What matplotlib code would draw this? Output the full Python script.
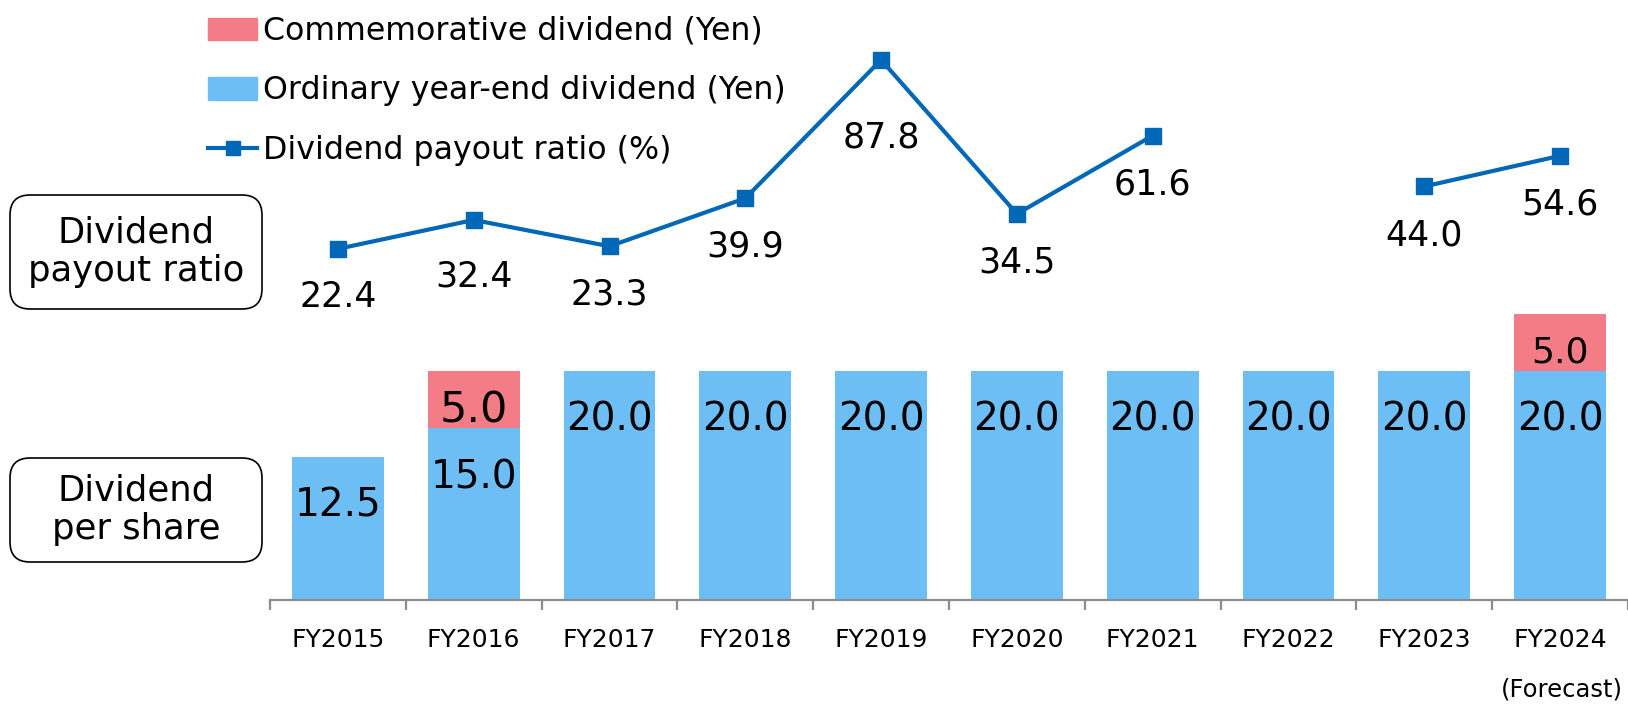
import numpy as np
import matplotlib.pyplot as plt
from matplotlib.patches import Patch, FancyBboxPatch
from matplotlib.lines import Line2D

# data
years = ['FY2015', 'FY2016', 'FY2017', 'FY2018', 'FY2019',
         'FY2020', 'FY2021', 'FY2022', 'FY2023', 'FY2024']
ordinary = [12.5, 15.0, 20.0, 20.0, 20.0, 20.0, 20.0, 20.0, 20.0, 20.0]
commemorative = [0, 5.0, 0, 0, 0, 0, 0, 0, 0, 5.0]
payout = [22.4, 32.4, 23.3, 39.9, 87.8, 34.5, 61.6, np.nan, 44.0, 54.6]

blue = '#6DBEF5'
red = '#F47C86'
line_c = '#0068B7'
grey = '#8C8C8C'

plt.rcParams['font.family'] = ['DejaVu Sans']

W, H = 1628, 705
fig = plt.figure(figsize=(W/100, H/100), dpi=100)
ax = fig.add_axes([270/W, 105/H, 1358/W, 600/H])
x = np.arange(len(years))

ax.bar(x, ordinary, width=0.675, color=blue)
ax.bar(x, commemorative, width=0.675, bottom=ordinary, color=red)
ax.set_xlim(-0.5, 9.5)
ax.set_ylim(0, 600/11.44)

# bar labels
for i in range(len(years)):
    ax.annotate(f'{ordinary[i]:.1f}', (x[i], ordinary[i]), xytext=(0, -35),
                textcoords='offset points', ha='center', va='center', fontsize=28)
    if commemorative[i] > 0:
        fs = 31 if i == 1 else 26
        ax.annotate(f'{commemorative[i]:.1f}', (x[i], ordinary[i] + commemorative[i]),
                    xytext=(0, -28), textcoords='offset points',
                    ha='center', va='center', fontsize=fs)

# axis styling
for s in ['left', 'top', 'right']:
    ax.spines[s].set_visible(False)
ax.spines['bottom'].set_color(grey)
ax.spines['bottom'].set_linewidth(1.6)
ax.set_yticks([])
ax.set_xticks(np.arange(-0.5, 10, 1))
ax.set_xticklabels([])
ax.tick_params(axis='x', which='major', length=7.5, width=1.6, color=grey)
ax.set_xticks(x, minor=True)
ax.set_xticklabels(years, minor=True, fontsize=18)
ax.tick_params(axis='x', which='minor', length=0, pad=20)

# payout ratio line
ax2 = ax.twinx()
ax2.set_ylim(-600/2.89 + 313.6/2.89, 313.6/2.89)
ax2.plot(x, payout, color=line_c, lw=3, marker='s', markersize=11)
for s in ['left', 'top', 'right', 'bottom']:
    ax2.spines[s].set_visible(False)
ax2.set_yticks([])
for i, v in enumerate(payout):
    if np.isnan(v):
        continue
    off = -35
    if i == 4:
        off = -56
    elif i == 1:
        off = -41
    ax2.annotate(f'{v:.1f}', (x[i], v), xytext=(0, off), textcoords='offset points',
                 ha='center', va='center', fontsize=25)

# legend
handles = [Patch(color=red), Patch(color=blue),
           Line2D([], [], color=line_c, lw=3, marker='s', markersize=10)]
labels = ['Commemorative dividend (Yen)', 'Ordinary year-end dividend (Yen)',
          'Dividend payout ratio (%)']
fig.legend(handles, labels, loc='upper left', bbox_to_anchor=(208/W, 1 - 16/H),
           frameon=False, fontsize=22.8, borderpad=0, borderaxespad=0,
           handlelength=1.55, handletextpad=0.2, labelspacing=0.9)

# side boxes (inches, so corners stay round)
for (y0, y1), txt in [((195, 309), 'Dividend\npayout ratio'),
                      ((458, 562), 'Dividend\nper share')]:
    fig.patches.append(FancyBboxPatch((0.10, (H - y1)/100), 2.52, (y1 - y0)/100,
                                      boxstyle='round,pad=0,rounding_size=0.2',
                                      transform=fig.dpi_scale_trans, fc='white',
                                      ec='black', lw=1.2))
    fig.text(136/W, 1 - (y0 + y1)/2/H, txt, ha='center', va='center',
             fontsize=25.5, linespacing=1.15)

fig.text(1623/W, 1 - 690/H, '(Forecast)', ha='right', va='center', fontsize=17.5)

fig.savefig('out.png', dpi=100)
